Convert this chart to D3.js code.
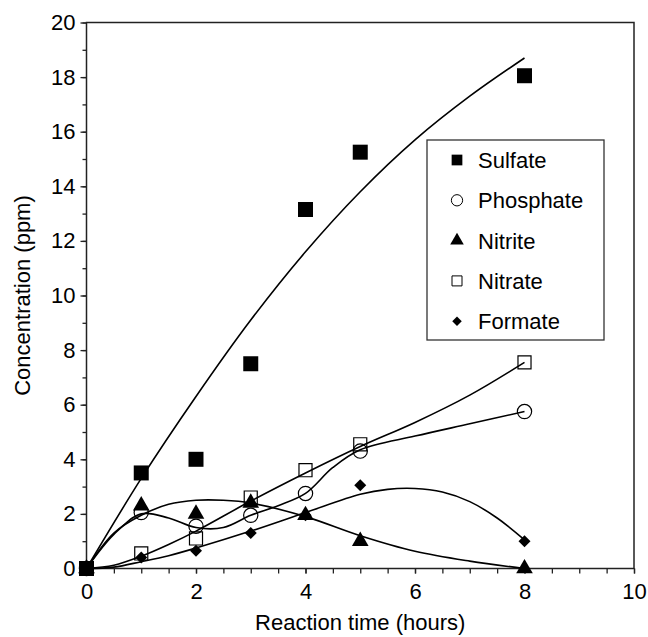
<!DOCTYPE html>
<html>
<head>
<meta charset="utf-8">
<script src="https://cdn.jsdelivr.net/npm/d3@7"></script>
<style>
  body { margin: 0; background: #fff; }
  svg text { font-family: "Liberation Sans", Arial, sans-serif; fill: #000; }
</style>
</head>
<body>
<svg id="chart" width="648" height="637"></svg>
<script>
// measured points (hours, ppm)
const hours = [0, 1, 2, 3, 4, 5, 8];
const sulfate = [0, 3.5, 4.0, 7.5, 13.15, 15.25, 18.05];
const phosphate = [0, 2.05, 1.55, 1.95, 2.75, 4.3, 5.75];
const nitrite = [0, 2.3, 2.0, 2.4, 1.95, 1.0, 0];
const nitrate = [0, 0.55, 1.1, 2.6, 3.6, 4.55, 7.55];
const formate = [0, 0.4, 0.65, 1.3, 1.95, 3.05, 1.0];

// fitted curves
const fitSulfateX = [0, 1, 2, 3, 4, 5, 6, 7, 8];
const fitSulfateY = [0, 3.3, 6.3, 9.1, 11.6, 13.8, 15.7, 17.3, 18.7];
const fitPhosphateX = [0, 0.5, 1, 1.5, 2, 2.5, 3, 3.5, 4, 4.5, 5, 6, 7, 8];
const fitPhosphateY = [0, 1.25, 2.0, 1.85, 1.5, 1.5, 1.95, 2.3, 2.75, 3.7, 4.35, 4.85, 5.3, 5.75];
const fitNitriteX = [0, 0.5, 1, 1.5, 2, 2.5, 3, 4, 5, 6, 7, 8];
const fitNitriteY = [0, 1.3, 1.95, 2.35, 2.5, 2.5, 2.4, 1.9, 1.2, 0.63, 0.27, 0];
const fitNitrateX = [0, 0.5, 1, 1.5, 2, 3, 4, 5, 6, 7, 8];
const fitNitrateY = [0, 0.12, 0.45, 0.88, 1.37, 2.47, 3.5, 4.47, 5.35, 6.35, 7.55];
const fitFormateX = [0, 0.5, 1, 1.5, 2, 3, 4, 5, 5.5, 6, 6.5, 7, 7.5, 8];
const fitFormateY = [0, 0.05, 0.25, 0.47, 0.75, 1.37, 2.05, 2.72, 2.9, 2.93, 2.8, 2.45, 1.85, 1.05];

const seriesNames = ["Sulfate", "Phosphate", "Nitrite", "Nitrate", "Formate"];
const xTicks = [0, 2, 4, 6, 8, 10];
const yTicks = [0, 2, 4, 6, 8, 10, 12, 14, 16, 18, 20];

const svg = d3.select("#chart");
const margin = { left: 86.5, right: 14, top: 22.5, bottom: 68.5 };
const W = 648, H = 637;

const x = d3.scaleLinear().domain([0, 10]).range([margin.left, W - margin.right]);
const y = d3.scaleLinear().domain([0, 20]).range([H - margin.bottom, margin.top]);

const zip = (xs, ys) => xs.map((v, i) => [v, ys[i]]);

// marker styles per series
const markers = {
  Sulfate: { type: d3.symbolSquare, size: 225, fill: "#000", rot: 0 },
  Phosphate: { type: d3.symbolCircle, size: 160, fill: "none", rot: 0 },
  Nitrite: { type: d3.symbolTriangle, size: 120, fill: "#000", rot: 0 },
  Nitrate: { type: d3.symbolSquare, size: 170, fill: "none", rot: 0 },
  Formate: { type: d3.symbolSquare, size: 72, fill: "#000", rot: 45 },
};
const legendMarkers = {
  Sulfate: 115, Phosphate: 100, Nitrite: 80, Nitrate: 100, Formate: 45,
};

const series = [
  { name: "Sulfate", pts: zip(hours, sulfate), fit: zip(fitSulfateX, fitSulfateY) },
  { name: "Phosphate", pts: zip(hours, phosphate), fit: zip(fitPhosphateX, fitPhosphateY) },
  { name: "Nitrite", pts: zip(hours, nitrite), fit: zip(fitNitriteX, fitNitriteY) },
  { name: "Nitrate", pts: zip(hours, nitrate), fit: zip(fitNitrateX, fitNitrateY) },
  { name: "Formate", pts: zip(hours, formate), fit: zip(fitFormateX, fitFormateY) },
];

// frame
svg.append("rect")
  .attr("x", x(0)).attr("y", y(20))
  .attr("width", x(10) - x(0)).attr("height", y(0) - y(20))
  .attr("fill", "none").attr("stroke", "#222").attr("stroke-width", 1.5);

// axes
const xMinor = d3.range(0, 10.01, 0.5);
const yMinor = d3.range(0, 20.01, 1);

const xAxis = svg.append("g").attr("transform", `translate(0,${y(0)})`);
xAxis.call(d3.axisBottom(x).tickValues(xMinor).tickSize(5).tickFormat(""));
xAxis.call(g => g.select(".domain").remove());
const xLab = svg.append("g").attr("transform", `translate(0,${y(0)})`);
xLab.call(d3.axisBottom(x).tickValues(xTicks).tickSize(5).tickPadding(10).tickFormat(d3.format("d")));
xLab.call(g => g.select(".domain").remove());

const yAxis = svg.append("g").attr("transform", `translate(${x(0)},0)`);
yAxis.call(d3.axisLeft(y).tickValues(yMinor).tickSize(4).tickFormat(""));
yAxis.call(g => g.select(".domain").remove());
const yLab = svg.append("g").attr("transform", `translate(${x(0)},0)`);
yLab.call(d3.axisLeft(y).tickValues(yTicks).tickSize(6).tickPadding(5).tickFormat(d3.format("d")));
yLab.call(g => g.select(".domain").remove());

svg.selectAll(".tick line").attr("stroke", "#222").attr("stroke-width", 1.3);
svg.selectAll(".tick text").style("font-size", "22px").attr("fill", "#000");

// axis titles
svg.append("text")
  .attr("x", x(5)).attr("y", 630)
  .attr("text-anchor", "middle")
  .style("font-size", "22px")
  .text("Reaction time (hours)");
svg.append("text")
  .attr("transform", `translate(30,${y(10)}) rotate(-90)`)
  .attr("text-anchor", "middle")
  .style("font-size", "22px")
  .text("Concentration (ppm)");

// fitted curves
const line = d3.line()
  .x(d => x(d[0])).y(d => y(d[1]))
  .curve(d3.curveCatmullRom.alpha(0.5));

svg.append("g").selectAll("path")
  .data(series)
  .join("path")
  .attr("d", d => line(d.fit))
  .attr("fill", "none")
  .attr("stroke", "#000")
  .attr("stroke-width", 1.6);

// markers, sulfate last so it sits on top at the origin
const drawOrder = ["Formate", "Nitrate", "Nitrite", "Phosphate", "Sulfate"];
drawOrder.forEach(name => {
  const s = series.find(d => d.name === name);
  const m = markers[name];
  svg.append("g").selectAll("path")
    .data(s.pts)
    .join("path")
    .attr("transform", d => `translate(${x(d[0])},${y(d[1])}) rotate(${m.rot})`)
    .attr("d", d3.symbol(m.type, m.size))
    .attr("fill", m.fill)
    .attr("stroke", "#000")
    .attr("stroke-width", m.fill === "none" ? 1.2 : 0);
});

// legend
const legend = svg.append("g");
legend.append("rect")
  .attr("x", 427).attr("y", 140)
  .attr("width", 177).attr("height", 200)
  .attr("fill", "#fff").attr("stroke", "#333").attr("stroke-width", 1.3);

seriesNames.forEach((name, i) => {
  const m = markers[name];
  const cy = 160 + i * 40.3;
  legend.append("path")
    .attr("transform", `translate(457,${cy}) rotate(${m.rot})`)
    .attr("d", d3.symbol(m.type, legendMarkers[name]))
    .attr("fill", m.fill)
    .attr("stroke", "#000")
    .attr("stroke-width", m.fill === "none" ? 1 : 0);
  legend.append("text")
    .attr("x", 478).attr("y", cy + 8)
    .style("font-size", "22px")
    .text(name);
});
</script>
</body>
</html>
